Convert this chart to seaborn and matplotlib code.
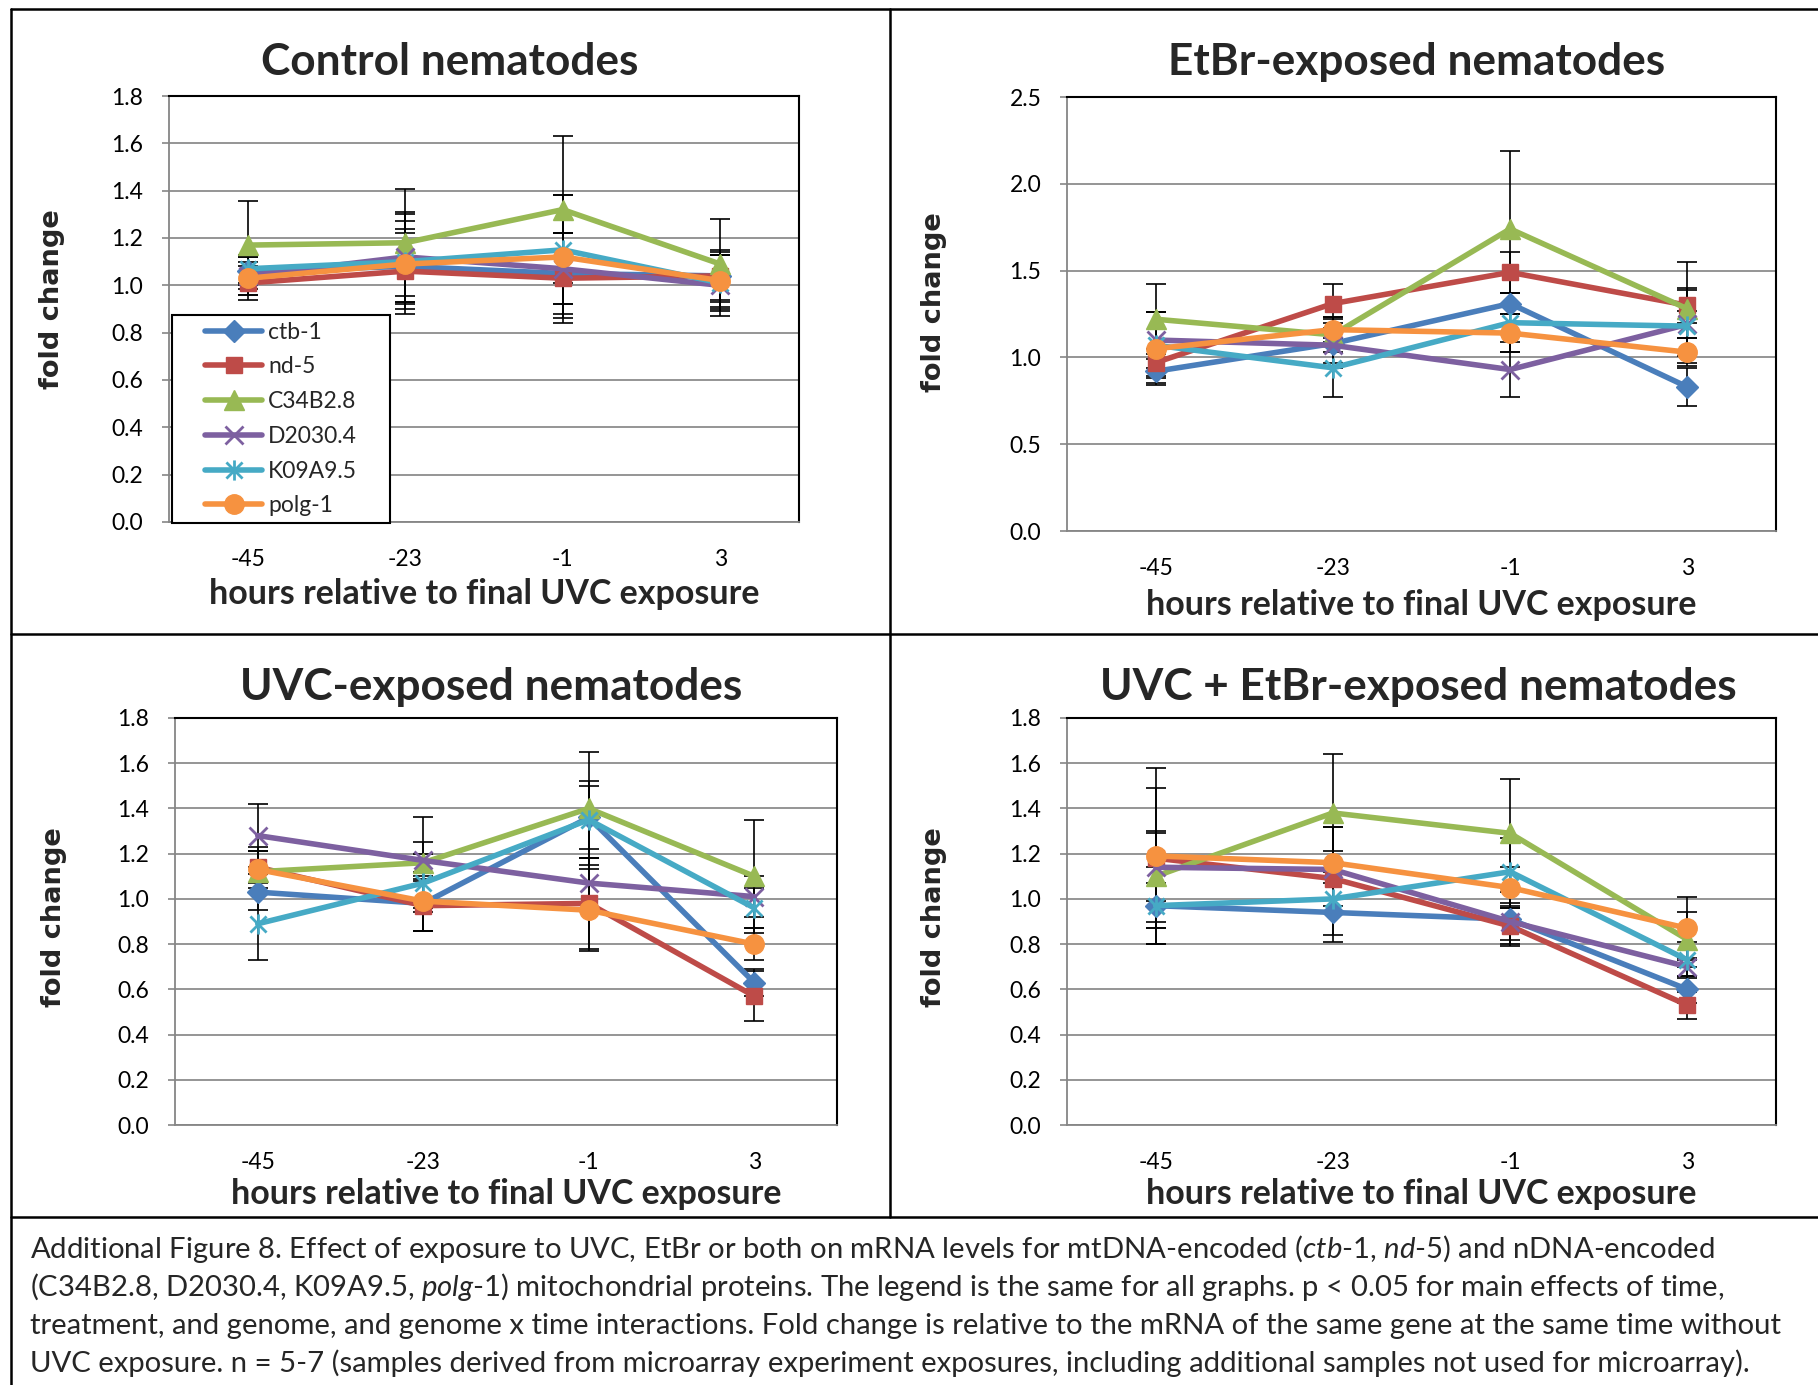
import numpy as np
import matplotlib
matplotlib.use("Agg")
import matplotlib.pyplot as plt
import seaborn as sns
from matplotlib.path import Path
from matplotlib.lines import Line2D
from matplotlib.patches import Rectangle
from matplotlib.ticker import FormatStrFormatter

# ---------------------------------------------------------------- data
hours = ["-45", "-23", "-1", "3"]
genes = ["ctb-1", "nd-5", "C34B2.8", "D2030.4", "K09A9.5", "polg-1"]

# Control nematodes
ctrl_ctb1 = [1.06, 1.08, 1.05, 1.04]
ctrl_nd5 = [1.01, 1.06, 1.03, 1.04]
ctrl_c34 = [1.17, 1.18, 1.32, 1.09]
ctrl_d20 = [1.04, 1.12, 1.07, 1.00]
ctrl_k09 = [1.07, 1.10, 1.15, 1.01]
ctrl_polg = [1.03, 1.09, 1.12, 1.02]
ctrl_ctb1_err = [0.06, 0.16, 0.17, 0.10]
ctrl_nd5_err = [0.07, 0.16, 0.19, 0.11]
ctrl_c34_err = [0.185, 0.225, 0.31, 0.19]
ctrl_d20_err = [0.08, 0.19, 0.15, 0.13]
ctrl_k09_err = [0.06, 0.17, 0.23, 0.12]
ctrl_polg_err = [0.07, 0.21, 0.26, 0.11]

# EtBr-exposed nematodes
etbr_ctb1 = [0.92, 1.08, 1.31, 0.83]
etbr_nd5 = [0.97, 1.31, 1.49, 1.30]
etbr_c34 = [1.22, 1.13, 1.74, 1.28]
etbr_d20 = [1.10, 1.07, 0.93, 1.19]
etbr_k09 = [1.07, 0.94, 1.20, 1.18]
etbr_polg = [1.05, 1.16, 1.14, 1.03]
etbr_ctb1_err = [0.07, 0.14, 0.06, 0.11]
etbr_nd5_err = [0.08, 0.11, 0.12, 0.10]
etbr_c34_err = [0.20, 0.10, 0.45, 0.27]
etbr_d20_err = [0.16, 0.10, 0.16, 0.08]
etbr_k09_err = [0.19, 0.17, 0.17, 0.21]
etbr_polg_err = [0.21, 0.07, 0.11, 0.08]

# UVC-exposed nematodes
uvc_ctb1 = [1.03, 0.98, 1.36, 0.63]
uvc_nd5 = [1.14, 0.97, 0.98, 0.57]
uvc_c34 = [1.12, 1.16, 1.40, 1.10]
uvc_d20 = [1.28, 1.17, 1.07, 1.01]
uvc_k09 = [0.89, 1.07, 1.35, 0.96]
uvc_polg = [1.13, 0.99, 0.95, 0.80]
uvc_ctb1_err = [0.08, 0.12, 0.14, 0.06]
uvc_nd5_err = [0.07, 0.11, 0.20, 0.11]
uvc_c34_err = [0.09, 0.20, 0.25, 0.25]
uvc_d20_err = [0.14, 0.08, 0.11, 0.09]
uvc_k09_err = [0.16, 0.13, 0.17, 0.09]
uvc_polg_err = [0.10, 0.13, 0.18, 0.07]

# UVC + EtBr-exposed nematodes
both_ctb1 = [0.97, 0.94, 0.91, 0.60]
both_nd5 = [1.18, 1.09, 0.88, 0.53]
both_c34 = [1.10, 1.38, 1.29, 0.82]
both_d20 = [1.14, 1.13, 0.90, 0.70]
both_k09 = [0.97, 1.00, 1.12, 0.73]
both_polg = [1.19, 1.16, 1.05, 0.87]
both_ctb1_err = [0.17, 0.13, 0.12, 0.06]
both_nd5_err = [0.31, 0.12, 0.08, 0.06]
both_c34_err = [0.20, 0.26, 0.24, 0.12]
both_d20_err = [0.15, 0.19, 0.08, 0.04]
both_k09_err = [0.10, 0.16, 0.15, 0.08]
both_polg_err = [0.39, 0.16, 0.09, 0.14]

titles = ["Control nematodes", "EtBr-exposed nematodes",
          "UVC-exposed nematodes", "UVC + EtBr-exposed nematodes"]
means = [
    [ctrl_ctb1, ctrl_nd5, ctrl_c34, ctrl_d20, ctrl_k09, ctrl_polg],
    [etbr_ctb1, etbr_nd5, etbr_c34, etbr_d20, etbr_k09, etbr_polg],
    [uvc_ctb1, uvc_nd5, uvc_c34, uvc_d20, uvc_k09, uvc_polg],
    [both_ctb1, both_nd5, both_c34, both_d20, both_k09, both_polg],
]
errors = [
    [ctrl_ctb1_err, ctrl_nd5_err, ctrl_c34_err, ctrl_d20_err, ctrl_k09_err, ctrl_polg_err],
    [etbr_ctb1_err, etbr_nd5_err, etbr_c34_err, etbr_d20_err, etbr_k09_err, etbr_polg_err],
    [uvc_ctb1_err, uvc_nd5_err, uvc_c34_err, uvc_d20_err, uvc_k09_err, uvc_polg_err],
    [both_ctb1_err, both_nd5_err, both_c34_err, both_d20_err, both_k09_err, both_polg_err],
]
y_max = [1.8, 2.5, 1.8, 1.8]
y_step = [0.2, 0.5, 0.2, 0.2]

# ---------------------------------------------------------------- style
sns.set_style("white")
plt.rcParams["font.family"] = ["Lato", "DejaVu Sans"]
plt.rcParams["mathtext.fontset"] = "custom"
plt.rcParams["mathtext.rm"] = "Lato"
plt.rcParams["mathtext.it"] = "Lato:italic"
plt.rcParams["mathtext.bf"] = "Lato:bold"

colors = ["#4A7EBB", "#BE4B48", "#98B954", "#7D60A0", "#46AAC5", "#F69240"]
asterisk = Path([(-1, -1), (1, 1), (-1, 1), (1, -1), (0, -1.25), (0, 1.25)],
                [Path.MOVETO, Path.LINETO, Path.MOVETO, Path.LINETO,
                 Path.MOVETO, Path.LINETO])
markers = ["D", "s", "^", "x", asterisk, "o"]
msizes = [11, 12, 14, 13, 14.5, 14]
LW = 4.0
AXIS_GRAY = "#868686"

W, H = 1818, 1385
fig = plt.figure(figsize=(W / 100, H / 100), dpi=100)


def fx(px):
    return px / W


def fy(px):
    return 1 - px / H


# pixel boxes (left, top, right, bottom) of each plot area
boxes = [(169, 96, 799, 522), (1067, 97, 1776, 531),
         (175, 718, 837, 1125), (1067, 718, 1776, 1125)]
title_pos = [(450, 75), (1417, 75), (491, 700), (1418, 700)]
xlabel_y = [604, 615, 1204, 1204]
ylabel_pos = [(52, 299), (934, 302), (54, 917), (934, 917)]


def line_style(i):
    filled = markers[i] in ("D", "s", "^", "o")
    return dict(color=colors[i], marker=markers[i], markersize=msizes[i],
                markeredgecolor=colors[i],
                markerfacecolor=colors[i] if filled else "none",
                markeredgewidth=1.0 if filled else 2.0, linewidth=LW)


legend_handles = []
for p in range(4):
    l, t, r, b = boxes[p]
    ax = fig.add_axes([fx(l), fy(b), (r - l) / W, (b - t) / H])
    for i, g in enumerate(genes):
        ax.errorbar(hours, means[p][i], yerr=errors[p][i], fmt="none",
                    ecolor="black", elinewidth=1.2, capsize=7, capthick=1.2,
                    zorder=2)
    for i, g in enumerate(genes):
        sns.lineplot(x=hours, y=means[p][i], ax=ax, sort=False,
                     errorbar=None, legend=False, zorder=3 + i,
                     **line_style(i))
        if p == 0:
            legend_handles.append(Line2D([], [], label=g, **line_style(i)))

    # axes limits and ticks
    ax.set_xlim(-0.5, 3.5)
    ax.set_ylim(0, y_max[p])
    ax.set_yticks(np.arange(0, y_max[p] + 1e-9, y_step[p]))
    ax.yaxis.set_major_formatter(FormatStrFormatter("%.1f"))
    ax.set_xticks([-0.5, 0.5, 1.5, 2.5, 3.5])
    ax.set_xticklabels([])
    ax.set_xticks([0, 1, 2, 3], minor=True)
    ax.set_xticklabels(hours, minor=True)
    ax.tick_params(axis="x", which="major", direction="out", length=6,
                   width=1.2, color=AXIS_GRAY)
    ax.tick_params(axis="x", which="minor", length=0, pad=19.5,
                   labelsize=16.5, labelcolor="black")
    ax.tick_params(axis="y", which="major", direction="out", length=5,
                   width=1.2, color=AXIS_GRAY, pad=13.5, labelsize=16.5,
                   labelcolor="black", left=True)
    ax.yaxis.grid(True, color="#8C8C8C", linewidth=1.3)
    ax.xaxis.grid(False)
    ax.set_axisbelow(True)
    for side in ("left", "bottom"):
        ax.spines[side].set_color(AXIS_GRAY)
        ax.spines[side].set_linewidth(1.3)
    for side in ("top", "right"):
        ax.spines[side].set_color("black")
        ax.spines[side].set_linewidth(1.5)

    # labels
    ax.set_xlabel("hours relative to final UVC exposure", fontsize=24.5,
                  fontweight="bold", va="baseline")
    ax.xaxis.set_label_coords(fx((l + r) / 2), fy(xlabel_y[p]),
                              transform=fig.transFigure)
    ax.set_ylabel("fold change", fontsize=19.6, fontweight="bold",
                  family="DejaVu Sans", va="center", ha="center")
    ax.yaxis.set_label_coords(fx(ylabel_pos[p][0]), fy(ylabel_pos[p][1]),
                              transform=fig.transFigure)
    fig.text(fx(title_pos[p][0]), fy(title_pos[p][1]), titles[p],
             fontsize=31.8, fontweight="bold", ha="center", va="baseline")

    if p == 0:
        lx0, ly0, lx1, ly1 = 172, 315, 390, 523
        ax.add_patch(Rectangle((fx(lx0), fy(ly1)), (lx1 - lx0) / W,
                               (ly1 - ly0) / H, transform=fig.transFigure,
                               facecolor="white", edgecolor="black",
                               linewidth=1.5, zorder=20, clip_on=False))
        leg = ax.legend(handles=legend_handles, loc="center",
                        bbox_to_anchor=(fx((lx0 + lx1) / 2), fy((ly0 + ly1) / 2)),
                        bbox_transform=fig.transFigure, frameon=False,
                        fontsize=16.5, handlelength=2.5, handletextpad=0.25,
                        labelspacing=0.6, borderpad=0)
        leg.set_zorder(21)

# ---------------------------------------------------------------- frame lines
frame_kw = dict(color="black", linewidth=1.8, transform=fig.transFigure)
fig.add_artist(Line2D([fx(11), fx(1818)], [fy(9), fy(9)], **frame_kw))
fig.add_artist(Line2D([fx(11), fx(11)], [fy(9), fy(1385)], **frame_kw))
fig.add_artist(Line2D([fx(890), fx(890)], [fy(9), fy(1217)], **frame_kw))
fig.add_artist(Line2D([fx(11), fx(1818)], [fy(634), fy(634)], **frame_kw))
fig.add_artist(Line2D([fx(11), fx(1818)], [fy(1217), fy(1217)], **frame_kw))

# ---------------------------------------------------------------- caption
caption = [
    r"Additional Figure 8. Effect of exposure to UVC, EtBr or both on mRNA levels for mtDNA-encoded ($\mathit{ctb}$-$\mathit{1}$, $\mathit{nd}$-$\mathit{5}$) and nDNA-encoded",
    r"(C34B2.8, D2030.4, K09A9.5, $\mathit{polg}$-$\mathit{1}$) mitochondrial proteins. The legend is the same for all graphs. p < 0.05 for main effects of time,",
    "treatment, and genome, and genome x time interactions. Fold change is relative to the mRNA of the same gene at the same time without",
    "UVC exposure. n = 5-7 (samples derived from microarray experiment exposures, including additional samples not used for microarray).",
]
for k, line in enumerate(caption):
    fig.text(fx(30), fy(1258 + 38 * k), line, fontsize=21.1, ha="left",
             va="baseline")

fig.savefig("out.png", dpi=100, facecolor="white")
